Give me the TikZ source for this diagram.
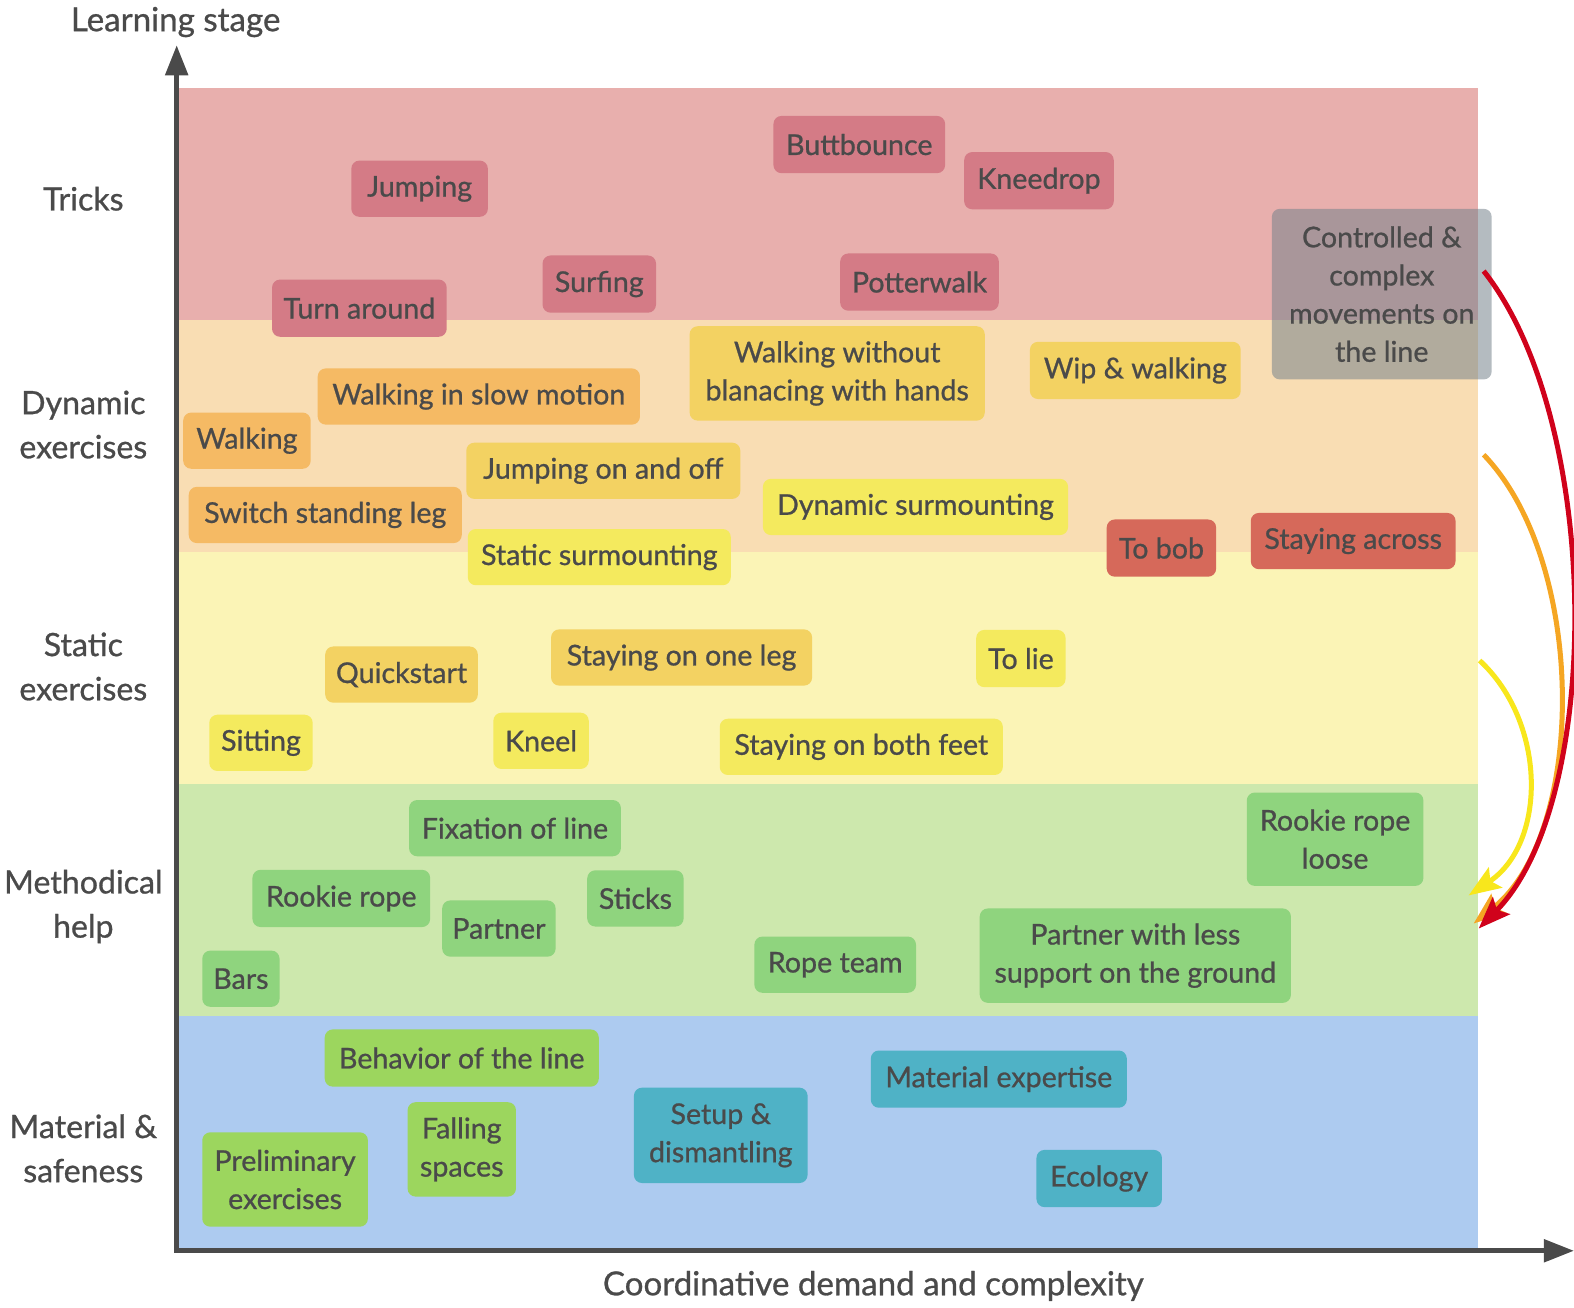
\documentclass[tikz,border=0pt]{standalone}
\usepackage{fontspec}
\setmainfont{Lato}[FakeBold=0.8]
\usetikzlibrary{arrows.meta}
\definecolor{txt}{HTML}{4A4A4A}
\definecolor{bRed}{HTML}{E8AFAD}
\definecolor{bPeach}{HTML}{F9DDB3}
\definecolor{bYel}{HTML}{FBF4B6}
\definecolor{bGreen}{HTML}{CDE8AD}
\definecolor{bBlue}{HTML}{ADCBF0}
\definecolor{cRed}{HTML}{D47B86}
\definecolor{cOrange}{HTML}{F5BA64}
\definecolor{cAmber}{HTML}{F3D262}
\definecolor{cYellow}{HTML}{F4EA5E}
\definecolor{cRedOr}{HTML}{D6695A}
\definecolor{cGreen}{HTML}{8FD47E}
\definecolor{cLime}{HTML}{9CD65E}
\definecolor{cTeal}{HTML}{4FB2C6}
\definecolor{cGray}{HTML}{77838C}
\definecolor{aRed}{HTML}{D0021B}
\definecolor{aOrange}{HTML}{F5A623}
\definecolor{aYellow}{HTML}{F8E71C}
\tikzset{
  x=1pt,y=-1pt,
  card/.style={rounded corners=8pt,inner sep=0pt,align=center,text=txt,
    font=\fontsize{28.5}{38}\selectfont},
  stage/.style={text=txt,align=center,font=\fontsize{32}{44}\selectfont},
  curvearrow/.style={line width=5pt,-{Stealth[length=32pt,width=24pt,inset=6pt]}},
}
\newcommand{\card}[7]{% name, color, cx, cy, w, h, text
  \node[card,fill=#2,minimum width=#5pt,minimum height=#6pt] (#1) at (#3,#4) {#7};}
\begin{document}
\begin{tikzpicture}
\useasboundingbox (0,0) rectangle (1568,1303);
% bands
\fill[bRed] (176,88) rectangle (1472,319);
\fill[bPeach] (176,319) rectangle (1472,550);
\fill[bYel] (176,550) rectangle (1472,781);
\fill[bGreen] (176,781) rectangle (1472,1012);
\fill[bBlue] (176,1012) rectangle (1472,1246);
% axes
\coordinate (origin) at (176,1246);
\coordinate (ytip) at (176,45);
\coordinate (xtip) at (1568,1246);
\draw[txt,line width=5pt,-{Triangle[length=30pt,width=22pt]}] (origin) -- (ytip);
\draw[txt,line width=5pt,-{Triangle[length=30pt,width=22pt]}] ([xshift=-2.5pt]origin) -- (xtip);
\node[stage,font=\fontsize{33}{36}\selectfont] (ylab) at (175,22) {Learning stage};
\node[stage,font=\fontsize{33}{36}\selectfont] (xlab) at (870,1281) {Coordinative demand and complexity};
% stage labels
\node[stage] (s1) at (83,198) {Tricks};
\node[stage] (s2) at (83,423) {Dynamic\\exercises};
\node[stage] (s3) at (83,664) {Static\\exercises};
\node[stage] (s4) at (83,903) {Methodical\\help};
\node[stage] (s5) at (83,1144) {Material \&\\safeness};
% tricks
\card{buttbounce}{cRed}{856}{144}{171}{57}{Buttbounce}
\card{kneedrop}{cRed}{1035}{180}{149}{57}{Kneedrop}
\card{jumping}{cRed}{418}{188}{136}{56}{Jumping}
\card{turnaround}{cRed}{358}{307}{174}{57}{Turn around}
\card{surfing}{cRed}{597}{283}{113}{57}{Surfing}
\card{potterwalk}{cRed}{916}{281}{158}{57}{Potterwalk}
% dynamic
\card{walkwithout}{cAmber}{834}{372}{294}{94}{Walking without\\blanacing with hands}
\card{wip}{cAmber}{1131}{369}{210}{57}{Wip \& walking}
\card{slowmotion}{cOrange}{477}{395}{321}{56}{Walking in slow motion}
\card{walking}{cOrange}{246}{439}{127}{56}{Walking}
\card{jumponoff}{cAmber}{601}{469}{273}{56}{Jumping on and off}
\card{switchleg}{cOrange}{324}{513}{272}{56}{Switch standing leg}
\card{dynsurm}{cYellow}{912}{505}{304}{56}{Dynamic surmounting}
\card{statsurm}{cYellow}{597}{555}{262}{56}{Static surmounting}
\card{tobob}{cRedOr}{1157}{546}{109}{57}{To bob}
\card{across}{cRedOr}{1348}{539}{204}{56}{Staying across}
% static
\card{quickstart}{cAmber}{400}{672}{152}{56}{Quickstart}
\card{oneleg}{cAmber}{679}{655}{260}{56}{Staying on one leg}
\card{tolie}{cYellow}{1017}{656}{89}{57}{To lie}
\card{sitting}{cYellow}{260}{740}{103}{56}{Sitting}
\card{kneel}{cYellow}{539}{738}{95}{56}{Kneel}
\card{bothfeet}{cYellow}{858}{744}{282}{56}{Staying on both feet}
% methodical
\card{fixation}{cGreen}{513}{825}{211}{56}{Fixation of line}
\card{rookie}{cGreen}{340}{895}{177}{57}{Rookie rope}
\card{partner}{cGreen}{497}{925}{113}{56}{Partner}
\card{sticks}{cGreen}{633}{895}{96}{56}{Sticks}
\card{bars}{cGreen}{240}{975}{77}{56}{Bars}
\card{ropeteam}{cGreen}{832}{961}{161}{56}{Rope team}
\card{partnerless}{cGreen}{1131}{952}{310}{94}{Partner with less\\support on the ground}
\card{rookieloose}{cGreen}{1330}{836}{176}{93}{Rookie rope\\loose}
% material
\card{behavior}{cLime}{460}{1054}{273}{57}{Behavior of the line}
\card{prelim}{cLime}{284}{1175}{165}{94}{Preliminary\\exercises}
\card{falling}{cLime}{460}{1145}{108}{94}{Falling\\spaces}
\card{setup}{cTeal}{718}{1131}{173}{95}{Setup \&\\dismantling}
\card{expertise}{cTeal}{995}{1075}{255}{57}{Material expertise}
\card{ecology}{cTeal}{1095}{1174}{125}{57}{Ecology}
% overlay gray box
\node[card,fill=cGray,fill opacity=0.55,text opacity=1,minimum width=219pt,minimum height=170pt] (controlled) at (1376.5,293) {Controlled \&\\complex\\movements on\\the line};
% curved arrows
\coordinate (rs) at (1478,270);
\coordinate (re) at (1473,925);
\coordinate (os) at (1478,453);
\coordinate (oe) at (1468,920);
\coordinate (ys) at (1474,658);
\coordinate (ye) at (1463,892);
\draw[curvearrow,aYellow] (ys) .. controls (1541,720) and (1541,840) .. (ye);
\draw[curvearrow,aOrange] (os) .. controls (1581,560) and (1581,830) .. (oe);
\draw[curvearrow,aRed] (rs) .. controls (1597,420) and (1597,800) .. (re);
\end{tikzpicture}
\end{document}
